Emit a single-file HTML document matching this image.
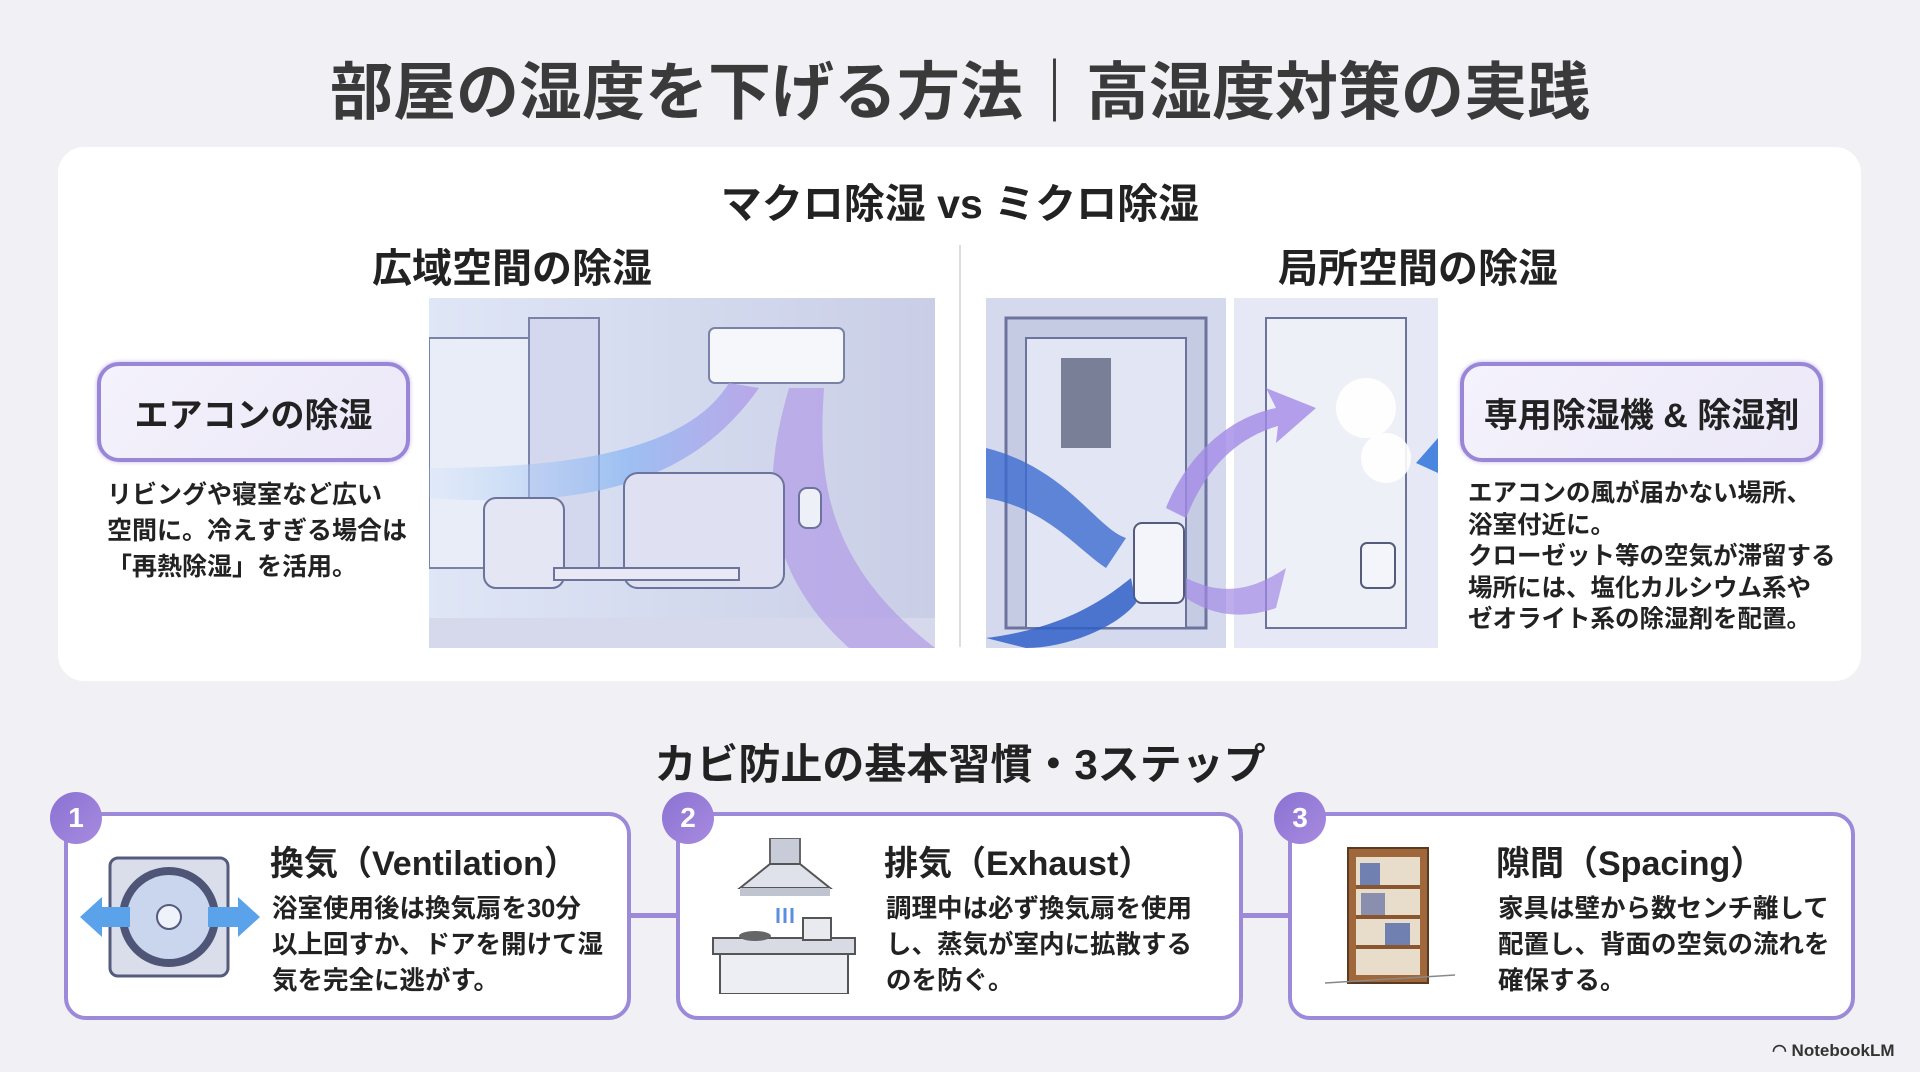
<!DOCTYPE html>
<html><head><meta charset="utf-8"><style>
*{margin:0;padding:0;box-sizing:border-box}
body{width:1920px;height:1072px;background:#f1f1f5;font-family:"Liberation Sans","Noto Sans CJK JP",sans-serif;color:#222;position:relative;overflow:hidden;font-weight:bold}
.a{position:absolute}
.title{left:0;width:1920px;top:42px;text-align:center;font-size:63px;color:#3a3a3a}
.panel{left:58px;top:147px;width:1803px;height:534px;background:#fff;border-radius:26px}
.h2{font-size:40px;text-align:center}
.pill{height:100px;border:4px solid #9a86d6;border-radius:22px;background:linear-gradient(135deg,#f4f2fc,#ece8f8);display:flex;align-items:center;justify-content:center;font-size:34px;box-shadow:0 0 4px #c8b8ec}
.desc{font-size:25px;line-height:36px}
.card{top:812px;width:567px;height:208px;border:4px solid #9c8ad8;border-radius:22px;background:#fff}
.badge{width:52px;height:52px;border-radius:50%;background:linear-gradient(135deg,#8a72d2,#a88be0);color:#fff;font-size:28px;display:flex;align-items:center;justify-content:center}
.ch{font-size:34px}
.cb{font-size:25.5px;line-height:36px}
.conn{top:913px;height:5px;width:46px;background:#9c8ad8}
</style></head><body>
<div class="a title">部屋の湿度を下げる方法｜高湿度対策の実践</div>
<div class="a panel"></div>
<div class="a h2" style="left:0;width:1920px;top:170px;font-size:41px">マクロ除湿 vs ミクロ除湿</div>
<div class="a" style="left:959px;top:245px;width:2px;height:402px;background:#ddd"></div>
<div class="a h2" style="left:312px;width:400px;top:236px">広域空間の除湿</div>
<div class="a h2" style="left:1218px;width:400px;top:236px">局所空間の除湿</div>

<svg class="a" style="left:429px;top:298px" width="506" height="350" viewBox="0 0 506 350">
<defs><linearGradient id="g1" x1="0" x2="1"><stop offset="0" stop-color="#dfe6f6"/><stop offset="1" stop-color="#c9cee6"/></linearGradient>
<linearGradient id="f1" x1="0" x2="1"><stop offset="0" stop-color="#b9d4f6" stop-opacity=".2"/><stop offset=".6" stop-color="#8fb8f2"/><stop offset="1" stop-color="#b39be8"/></linearGradient></defs>
<rect width="506" height="350" fill="url(#g1)"/>
<rect x="0" y="40" width="100" height="230" fill="#e8edf8" stroke="#7b82a8" stroke-width="2"/>
<rect x="100" y="20" width="70" height="250" fill="#d4d8ee" stroke="#7b82a8" stroke-width="2"/>
<polygon points="0,320 506,320 506,350 0,350" fill="#d6d8ec"/>
<rect x="280" y="30" width="135" height="55" rx="6" fill="#f6f7fb" stroke="#7b82a8" stroke-width="2"/>
<path d="M300 85 C 260 150,150 170,0 170 L0 200 C 150 210,260 190,330 90Z" fill="url(#f1)" opacity=".8"/>
<path d="M360 90 C 340 160,320 260,420 350 L506 350 C 390 260,390 170,395 90Z" fill="#a98de6" opacity=".55"/>
<rect x="55" y="200" width="80" height="90" rx="12" fill="#e4e6f4" stroke="#6c739c" stroke-width="2"/>
<rect x="195" y="175" width="160" height="115" rx="14" fill="#dfe1f2" stroke="#6c739c" stroke-width="2"/>
<rect x="125" y="270" width="185" height="12" fill="#e8e9f5" stroke="#6c739c" stroke-width="2"/>
<rect x="370" y="190" width="22" height="40" rx="8" fill="#eef0f8" stroke="#6c739c" stroke-width="2"/>
</svg>

<svg class="a" style="left:986px;top:298px" width="452" height="350" viewBox="0 0 452 350">
<rect width="240" height="350" fill="#d4d9ee"/>
<rect x="248" width="204" height="350" fill="#e6e9f5"/>
<rect x="20" y="20" width="200" height="310" fill="#c6cbe4" stroke="#6c739c" stroke-width="3"/>
<rect x="40" y="40" width="160" height="290" fill="#e2e5f3" stroke="#6c739c" stroke-width="2"/>
<rect x="280" y="20" width="140" height="310" fill="#eef0f8" stroke="#6c739c" stroke-width="2"/>
<circle cx="380" cy="110" r="30" fill="#fff" opacity=".9"/><circle cx="400" cy="160" r="25" fill="#fff" opacity=".9"/>
<rect x="75" y="60" width="50" height="90" fill="#7a7f98"/>
<rect x="148" y="225" width="50" height="80" rx="8" fill="#f4f5fb" stroke="#555b7c" stroke-width="2"/>
<rect x="375" y="245" width="34" height="45" rx="6" fill="#f4f5fb" stroke="#555b7c" stroke-width="2"/>
<path d="M0 150 C 80 170,110 230,140 240 L120 270 C 90 250,60 210,0 200Z" fill="#3c6cd0" opacity=".8"/>
<path d="M0 340 C 80 330,120 300,145 280 L150 305 C 130 330,80 350,40 350Z" fill="#3060c8" opacity=".85"/>
<path d="M180 210 C 200 160,240 120,290 110 L280 90 L330 110 L290 145 L292 128 C 250 140,220 170,200 220Z" fill="#a28ae6" opacity=".8"/>
<path d="M200 280 C 240 300,270 290,300 270 L290 310 C 260 320,230 320,200 300Z" fill="#a28ae6" opacity=".7"/>
<path d="M452 140 L430 165 L452 175Z" fill="#4a86e0"/>
</svg>

<div class="a pill" style="left:97px;top:362px;width:313px">エアコンの除湿</div>
<div class="a desc" style="left:107px;top:477px">リビングや寝室など広い<br>空間に。冷えすぎる場合は<br>「再熱除湿」を活用。</div>
<div class="a pill" style="left:1460px;top:362px;width:363px">専用除湿機 &amp; 除湿剤</div>
<div class="a desc" style="left:1468px;top:478px;line-height:31.5px;font-size:24.5px">エアコンの風が届かない場所、<br>浴室付近に。<br>クローゼット等の空気が滞留する<br>場所には、塩化カルシウム系や<br>ゼオライト系の除湿剤を配置。</div>

<div class="a h2" style="left:0;width:1920px;top:731px;font-size:42px">カビ防止の基本習慣・3ステップ</div>

<div class="a conn" style="left:630px"></div>
<div class="a conn" style="left:1242px"></div>

<div class="a card" style="left:64px"></div>
<div class="a card" style="left:676px"></div>
<div class="a card" style="left:1288px"></div>
<div class="a badge" style="left:50px;top:792px">1</div>
<div class="a badge" style="left:662px;top:792px">2</div>
<div class="a badge" style="left:1274px;top:792px">3</div>

<svg class="a" style="left:80px;top:855px" width="180" height="125" viewBox="0 0 180 125">
<rect x="30" y="3" width="118" height="118" rx="8" fill="#d9deea" stroke="#555b7c" stroke-width="3"/>
<circle cx="89" cy="62" r="50" fill="#4e5576"/><circle cx="89" cy="62" r="42" fill="#c9d6ee"/>
<circle cx="89" cy="62" r="12" fill="#eef2fa" stroke="#555b7c" stroke-width="2"/>
<polygon points="0,62 22,42 22,52 50,52 50,72 22,72 22,82" fill="#5aa2ea"/>
<polygon points="180,62 158,42 158,52 128,52 128,72 158,72 158,82" fill="#5aa2ea"/>
</svg>
<svg class="a" style="left:710px;top:838px" width="150" height="156" viewBox="0 0 150 156">
<rect x="60" y="0" width="30" height="28" fill="#c8ccd8" stroke="#666" stroke-width="2"/>
<polygon points="30,50 60,26 90,26 120,50" fill="#dfe2ea" stroke="#555" stroke-width="2"/>
<rect x="30" y="50" width="90" height="8" fill="#c0c4d0"/>
<path d="M75 70 v15 M82 70 v15 M68 70 v15" stroke="#5a8ee0" stroke-width="3"/>
<rect x="3" y="100" width="142" height="16" fill="#d8dbe4" stroke="#555" stroke-width="2"/>
<rect x="10" y="116" width="128" height="40" fill="#eceef4" stroke="#555" stroke-width="2"/>
<rect x="93" y="80" width="28" height="22" fill="#e8eaf0" stroke="#555" stroke-width="2"/>
<ellipse cx="45" cy="98" rx="16" ry="5" fill="#666"/>
</svg>
<svg class="a" style="left:1325px;top:845px" width="140" height="145" viewBox="0 0 140 145">
<rect x="23" y="3" width="80" height="135" fill="#a0683a" stroke="#5a3a20" stroke-width="2"/>
<rect x="31" y="12" width="64" height="118" fill="#e8dccb"/>
<path d="M31 42 H95 M31 72 H95 M31 102 H95" stroke="#8a5630" stroke-width="4"/>
<rect x="35" y="18" width="20" height="22" fill="#7080b0"/><rect x="36" y="48" width="24" height="22" fill="#8a8fb0"/><rect x="60" y="78" width="25" height="22" fill="#7080b0"/>
<path d="M0 138 L130 130" stroke="#888" stroke-width="1.5"/>
</svg>

<div class="a ch" style="left:270px;top:836px">換気（Ventilation）</div>
<div class="a cb" style="left:272px;top:891px">浴室使用後は換気扇を30分<br>以上回すか、ドアを開けて湿<br>気を完全に逃がす。</div>
<div class="a ch" style="left:884px;top:836px">排気（Exhaust）</div>
<div class="a cb" style="left:886px;top:891px">調理中は必ず換気扇を使用<br>し、蒸気が室内に拡散する<br>のを防ぐ。</div>
<div class="a ch" style="left:1496px;top:836px">隙間（Spacing）</div>
<div class="a cb" style="left:1498px;top:891px">家具は壁から数センチ離して<br>配置し、背面の空気の流れを<br>確保する。</div>

<div class="a" style="left:1772px;top:1041px;font-size:17px;color:#333">◠ NotebookLM</div>
</body></html>
